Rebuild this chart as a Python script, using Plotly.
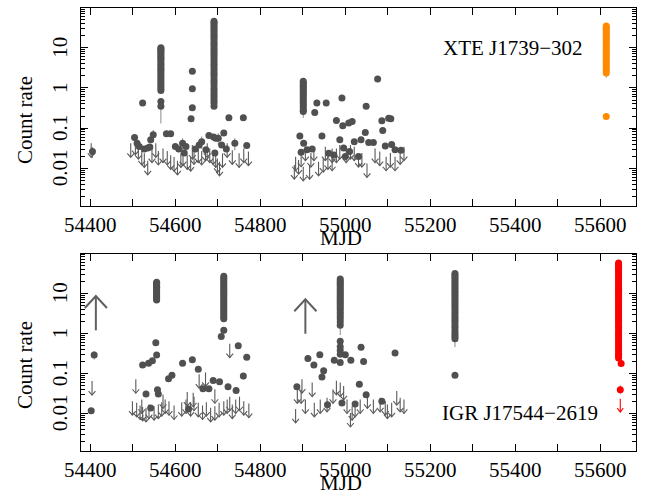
import math
import plotly.graph_objects as go

# ---------------- DATA ----------------
# Top panel: XTE J1739-302
t_det_x = [54405, 54523, 54640, 54640, 54640, 54637, 54726, 54760,
           54504, 54510, 54515, 54535, 54540, 54542, 54548, 54579, 54589, 54600,
           54617, 54621, 54625, 54656, 54662, 54672, 54679, 54693, 54695, 54701,
           54709, 54714, 54740, 54768, 54527, 54608, 54647, 54690, 54720,
           54933, 54955, 54928, 54992, 55076, 55049, 54979, 54994, 55008, 55016,
           55086, 55102, 55107, 55088, 55047, 54893, 54945, 54987, 55021, 55037,
           55055, 55066, 55094, 55109, 55117, 55131, 54996, 55010, 55000, 55031,
           54961, 54973, 54902, 54910, 54896, 54922]
t_det_y = [0.026, 0.42, 2.6, 0.96, 0.32, 0.17, 0.18, 0.18,
           0.058, 0.042, 0.035, 0.032, 0.034, 0.051, 0.068, 0.072, 0.072, 0.035,
           0.042, 0.024, 0.035, 0.038, 0.046, 0.029, 0.065, 0.024, 0.056, 0.056,
           0.038, 0.075, 0.042, 0.037, 0.030, 0.030, 0.030, 0.060, 0.030,
           0.42, 0.42, 0.246, 0.56, 1.67, 0.35, 0.155, 0.114, 0.133, 0.146,
           0.152, 0.177, 0.17, 0.087, 0.078, 0.064, 0.064, 0.051, 0.046, 0.051,
           0.044, 0.044, 0.036, 0.039, 0.029, 0.028, 0.032, 0.026, 0.0196, 0.0196,
           0.0237, 0.0215, 0.042, 0.029, 0.025, 0.030]

t_c1_x = 54566
t_c1_y = [10, 9.4, 8.8, 8.1, 7.4, 6.7, 6.1, 5.5, 5.0, 4.5, 4.0, 3.6, 3.2, 2.9,
          2.6, 2.3, 2.05, 1.8, 1.6, 1.4, 1.25, 1.1, 0.97, 0.86, 0.46, 0.35]
t_c2_x = 54691
t_c2_y = [46, 42, 38, 34, 30, 27, 24, 21, 19, 17, 15, 13, 11.5, 10, 8.8, 7.7,
          6.8, 6.0, 5.2, 4.5, 3.9, 3.4, 2.9, 2.5, 2.2, 1.9, 1.6, 1.4, 1.2, 1.0,
          0.87, 0.75, 0.65, 0.56, 0.48, 0.42, 0.35]
t_c3_x = 54901
t_c3_y = [1.47, 1.35, 1.22, 1.1, 1.0, 0.9, 0.82, 0.74, 0.66, 0.59, 0.52, 0.46,
          0.41, 0.36, 0.32, 0.28, 0.26]
t_or_x = 55614
t_or_y = [35, 32, 29, 26, 23, 20.5, 18, 16, 14, 12.5, 11, 9.7, 8.6, 7.6, 6.7,
          5.9, 5.2, 4.6, 4.0, 3.5, 3.1, 2.7, 2.37, 0.195]

t_ul_x = [54402, 54495, 54506, 54513, 54521, 54527, 54535, 54545, 54554, 54560,
          54571, 54581, 54589, 54597, 54605, 54613, 54618, 54628, 54636, 54640,
          54644, 54654, 54662, 54671, 54675, 54681, 54689, 54695, 54699, 54704,
          54711, 54722, 54734, 54750, 54761, 54772,
          54880, 54883, 54890, 54896, 54901, 54906, 54916, 54919, 54926, 54937,
          54948, 54959, 54969, 54979, 54987, 55002, 55012, 55021, 55031, 55039,
          55051, 55070, 55081, 55096, 55106, 55117, 55129, 55138, 54953, 54969]
t_ul_y = [0.042, 0.042, 0.049, 0.038, 0.027, 0.0235, 0.0154, 0.031, 0.042, 0.027,
          0.031, 0.027, 0.021, 0.019, 0.0154, 0.0235, 0.026, 0.021, 0.019, 0.038,
          0.028, 0.031, 0.027, 0.034, 0.042, 0.031, 0.028, 0.0235, 0.0176, 0.0145,
          0.0235, 0.042, 0.028, 0.0235, 0.031, 0.026,
          0.012, 0.0194, 0.016, 0.0244, 0.0109, 0.0345, 0.012, 0.024, 0.0345, 0.0145,
          0.018, 0.021, 0.0194, 0.031, 0.038, 0.031, 0.038, 0.0345, 0.024, 0.024,
          0.0132, 0.031, 0.026, 0.0194, 0.024, 0.0194, 0.028, 0.0345, 0.0345, 0.031]

# error bars (x, low, high)
t_eb_x = [54566, 54901, 55614, 55614, 54691, 54405, 54548, 54617, 54662, 54701, 54740]
t_eb_lo = [0.13, 0.18, 1.8, 0.165, 0.3, 0.018, 0.045, 0.028, 0.030, 0.038, 0.028]
t_eb_hi = [0.40, 0.30, 2.5, 0.225, 0.45, 0.034, 0.090, 0.056, 0.062, 0.075, 0.056]

# Bottom panel: IGR J17544-2619
b_det_x = [54402, 54409,
           54554, 54556, 54546, 54537, 54523, 54617, 54640, 54654, 54584, 54592,
           54531, 54558, 54560, 54542, 54631, 54665, 54679, 54689, 54704, 54724,
           54743, 54760, 54768, 54748, 54708,
           54912, 54940, 54926, 54949, 54945, 54974, 55000, 55013, 55037, 55043,
           55117, 54886, 55033, 55049, 54992, 55023, 55086, 54958,
           54988, 54988, 54988, 54988, 54988, 55258]
b_det_y = [0.0116, 0.286,
           0.575, 0.286, 0.205, 0.179, 0.16, 0.179, 0.218, 0.126, 0.073, 0.089,
           0.0305, 0.039, 0.0305, 0.0135, 0.0128, 0.041, 0.041, 0.066, 0.0615, 0.046,
           0.037, 0.086, 0.25, 0.49, 0.83,
           0.235, 0.29, 0.16, 0.115, 0.081, 0.213, 0.29, 0.213, 0.447, 0.197,
           0.32, 0.046, 0.053, 0.029, 0.018, 0.017, 0.02, 0.0164,
           0.63, 0.46, 0.37, 0.30, 0.186, 0.089]

b_cA_x = 54556
b_cA_y = [18.6, 17.5, 16.3, 15.2, 14.1, 13, 12, 11, 10.1, 9.3, 8.5, 7.8, 7.2, 6.8]
b_cB_x = 54714
b_cB_y = [26.4, 24, 21.5, 19.3, 17.3, 15.5, 13.9, 12.5, 11.2, 10, 9, 8, 7.2, 6.4,
          5.7, 5.1, 4.5, 4.0, 3.6, 3.2, 2.85, 2.55, 2.3, 1.18]
b_cC_x = 54988
b_cC_y = [22.6, 20.5, 18.5, 16.7, 15, 13.5, 12.1, 10.9, 9.8, 8.8, 7.9, 7.1, 6.3,
          5.6, 5.0, 4.4, 3.9, 3.4, 3.0, 2.6, 2.25, 1.9, 1.58]
b_cD_x = 55258
b_cD_y = [30.8, 28, 25, 22.5, 20, 18, 16, 14.3, 12.8, 11.4, 10.2, 9.1, 8.1, 7.2,
          6.4, 5.7, 5.1, 4.5, 4.0, 3.5, 3.1, 2.7, 2.4, 2.1, 1.85, 1.6, 1.4, 1.2,
          1.05, 0.92, 0.82, 0.73]
b_red_x = [55643] * 45 + [55649, 55647]
b_red_y = [57, 52, 47, 42, 38, 34, 30, 27, 24, 21.5, 19, 17, 15, 13.3, 11.8, 10.5,
           9.3, 8.2, 7.3, 6.5, 5.8, 5.1, 4.5, 4.0, 3.5, 3.1, 2.7, 2.4, 2.1, 1.85,
           1.6, 1.4, 1.2, 1.05, 0.92, 0.8, 0.7, 0.6, 0.52, 0.45, 0.39, 0.34, 0.3,
           0.27, 0.24, 0.176, 0.039]
b_red_ul_x = [55647]
b_red_ul_y = [0.023]

b_ul_x = [54499, 54509, 54517, 54523, 54531, 54538, 54550, 54560, 54568, 54576,
          54585, 54597, 54615, 54625, 54636, 54644, 54654, 54664, 54673, 54683,
          54693, 54703, 54714, 54722, 54728, 54734, 54742, 54751, 54761, 54773,
          54521, 54571, 54628, 54642,
          54507, 54728, 54656, 54671, 54693, 54404,
          54883, 54887, 54896, 54898, 54906, 54922, 54927, 54941, 54957, 54971,
          54979, 54988, 54996, 55004, 55012, 55016, 55023, 55035, 55052, 55066,
          55082, 55094, 55099, 55109, 55121, 55129, 55138]
b_ul_y = [0.0201, 0.0183, 0.0157, 0.0145, 0.0137, 0.0166, 0.0151, 0.0166, 0.019, 0.0222,
          0.0201, 0.0157, 0.019, 0.0222, 0.019, 0.026, 0.0183, 0.0157, 0.019, 0.0137,
          0.0151, 0.0183, 0.0201, 0.0222, 0.026, 0.0166, 0.0222, 0.026, 0.0201, 0.0176,
          0.0222, 0.0297, 0.034, 0.0327,
          0.071, 0.55, 0.095, 0.105, 0.04, 0.064,
          0.0129, 0.0398, 0.0398, 0.0713, 0.0222, 0.0588, 0.0183, 0.0222, 0.0245, 0.0398,
          0.0647, 0.0588, 0.0483, 0.0222, 0.0102, 0.0151, 0.0183, 0.0222, 0.0297, 0.0222,
          0.0245, 0.0201, 0.0166, 0.0183, 0.036, 0.0245, 0.0222]

b_ll_x = [54413, 54906]
b_ll_lo = [1.18, 0.97]
b_ll_hi = [8.5, 7.05]

b_eb_x = [54988, 55258, 55643, 55647, 54714, 54409, 54760, 55037]
b_eb_lo = [0.9, 0.45, 0.2, 0.03, 0.95, 0.22, 0.07, 0.38]
b_eb_hi = [1.6, 0.75, 0.27, 0.05, 1.4, 0.36, 0.10, 0.52]

x_ticks = list(range(54400, 55601, 100))
x_labels = [str(v) if v % 200 == 0 else "" for v in x_ticks]
y_ticks = [0.01, 0.1, 1, 10]
y_labels = ["0.01", "0.1", "1", "10"]

# ---------------- STYLE ----------------
GRAY = "#505050"
ARROW = "#5a5a5a"
EB = "#8a8a8a"
ORANGE = "#ff8a00"
RED = "#ff0000"
FONT = "Liberation Serif, Times New Roman, serif"
FS = 21


def down_arrows(xs, ys, shaft=0.35, hw=8.0, hh=0.1):
    X, Y = [], []
    for x, y in zip(xs, ys):
        tip = y / 10 ** shaft
        X += [x, x, None, x - hw, x, x + hw, None]
        Y += [y, tip, None, tip * 10 ** hh, tip, tip * 10 ** hh, None]
    return X, Y


def up_arrows(xs, los, his, hw=26.0, hh=0.3):
    X, Y = [], []
    for x, lo, hi in zip(xs, los, his):
        X += [x, x, None, x - hw, x, x + hw, None]
        Y += [lo, hi, None, hi / 10 ** hh, hi, hi / 10 ** hh, None]
    return X, Y


def segs(xs, los, his):
    X, Y = [], []
    for x, lo, hi in zip(xs, los, his):
        X += [x, x, None]
        Y += [lo, hi, None]
    return X, Y


fig = go.Figure()


def add_panel(xa, ya, det_x, det_y, clusters, ul_x, ul_y, eb):
    ex, ey = segs(*eb)
    fig.add_trace(go.Scatter(x=ex, y=ey, mode="lines", xaxis=xa, yaxis=ya,
                             line=dict(color=EB, width=1)))
    ax, ay = down_arrows(ul_x, ul_y)
    fig.add_trace(go.Scatter(x=ax, y=ay, mode="lines", xaxis=xa, yaxis=ya,
                             line=dict(color=ARROW, width=1.1)))
    fig.add_trace(go.Scatter(x=det_x, y=det_y, mode="markers", xaxis=xa, yaxis=ya,
                             marker=dict(color=GRAY, size=7, line=dict(width=0))))
    for cx, cy, col in clusters:
        xs = cx if isinstance(cx, list) else [cx] * len(cy)
        fig.add_trace(go.Scatter(x=xs, y=cy, mode="markers", xaxis=xa, yaxis=ya,
                                 marker=dict(color=col, size=7, line=dict(width=0))))


add_panel("x", "y", t_det_x, t_det_y,
          [(t_c1_x, t_c1_y, GRAY), (t_c2_x, t_c2_y, GRAY), (t_c3_x, t_c3_y, GRAY),
           (t_or_x, t_or_y, ORANGE)],
          t_ul_x, t_ul_y, (t_eb_x, t_eb_lo, t_eb_hi))

add_panel("x2", "y2", b_det_x, b_det_y,
          [(b_cA_x, b_cA_y, GRAY), (b_cB_x, b_cB_y, GRAY), (b_cC_x, b_cC_y, GRAY),
           (b_cD_x, b_cD_y, GRAY), (b_red_x, b_red_y, RED)],
          b_ul_x, b_ul_y, (b_eb_x, b_eb_lo, b_eb_hi))

rx, ry = down_arrows(b_red_ul_x, b_red_ul_y, shaft=0.33, hw=7, hh=0.1)
fig.add_trace(go.Scatter(x=rx, y=ry, mode="lines", xaxis="x2", yaxis="y2",
                         line=dict(color=RED, width=1.1)))
lx, ly = up_arrows(b_ll_x, b_ll_lo, b_ll_hi)
fig.add_trace(go.Scatter(x=lx, y=ly, mode="lines", xaxis="x2", yaxis="y2",
                         line=dict(color="#606060", width=2)))

minor_vals = [m * 10 ** e for e in range(-3, 2) for m in range(2, 10)]

xcommon = dict(range=[54378, 55684], tickmode="array", tickvals=x_ticks,
               ticktext=x_labels, ticks="inside", ticklen=7, tickwidth=1,
               tickcolor="black", mirror="ticks", showline=True, linecolor="black",
               linewidth=1.2, showgrid=False, zeroline=False,
               tickfont=dict(family=FONT, size=FS, color="black"))
ycommon = dict(type="log", range=[-2.94, 1.99], tickmode="array", tickvals=y_ticks,
               ticktext=y_labels, showticklabels=False, ticks="inside", ticklen=7,
               tickwidth=1, tickcolor="black", mirror="ticks", showline=True,
               linecolor="black", linewidth=1.2, showgrid=False, zeroline=False,
               minor=dict(tickmode="array", tickvals=minor_vals, ticks="inside",
                          ticklen=3.5, tickwidth=1, tickcolor="black", showgrid=False))

tfont = dict(family=FONT, size=FS, color="black")
annotations = [
    dict(text="XTE J1739\u2212302", x=55394, y=1.0, xref="x", yref="y",
         showarrow=False, font=tfont),
    dict(text="IGR J17544\u22122619", x=55410, y=-1.987, xref="x2", yref="y2",
         showarrow=False, font=tfont),
    dict(text="Count rate", x=-0.101, y=0.747, xref="paper", yref="paper",
         textangle=-90, showarrow=False, xanchor="center", yanchor="middle", font=tfont),
    dict(text="Count rate", x=-0.101, y=0.194, xref="paper", yref="paper",
         textangle=-90, showarrow=False, xanchor="center", yanchor="middle", font=tfont),
    dict(text="MJD", x=0.4685, y=0.4797, xref="paper", yref="paper",
         showarrow=False, xanchor="center", yanchor="middle", font=tfont),
    dict(text="MJD", x=0.4685, y=-0.0722, xref="paper", yref="paper",
         showarrow=False, xanchor="center", yanchor="middle", font=tfont),
]
for yref in ("y", "y2"):
    for v, lab in zip(y_ticks, y_labels):
        annotations.append(dict(text=lab, x=-0.0378, y=math.log10(v), xref="paper",
                                yref=yref, textangle=-90, showarrow=False,
                                xanchor="center", yanchor="middle", font=tfont))

fig.update_layout(
    width=646, height=494,
    margin=dict(l=81, r=10, t=8, b=43),
    paper_bgcolor="white", plot_bgcolor="white",
    showlegend=False, hovermode=False,
    xaxis=dict(domain=[0, 1], anchor="y", **xcommon),
    yaxis=dict(domain=[0.553, 1.0], anchor="x", **ycommon),
    xaxis2=dict(domain=[0, 1], anchor="y2", **xcommon),
    yaxis2=dict(domain=[0, 0.4458], anchor="x2", **ycommon),
    annotations=annotations,
)

fig.write_html("out.html")
